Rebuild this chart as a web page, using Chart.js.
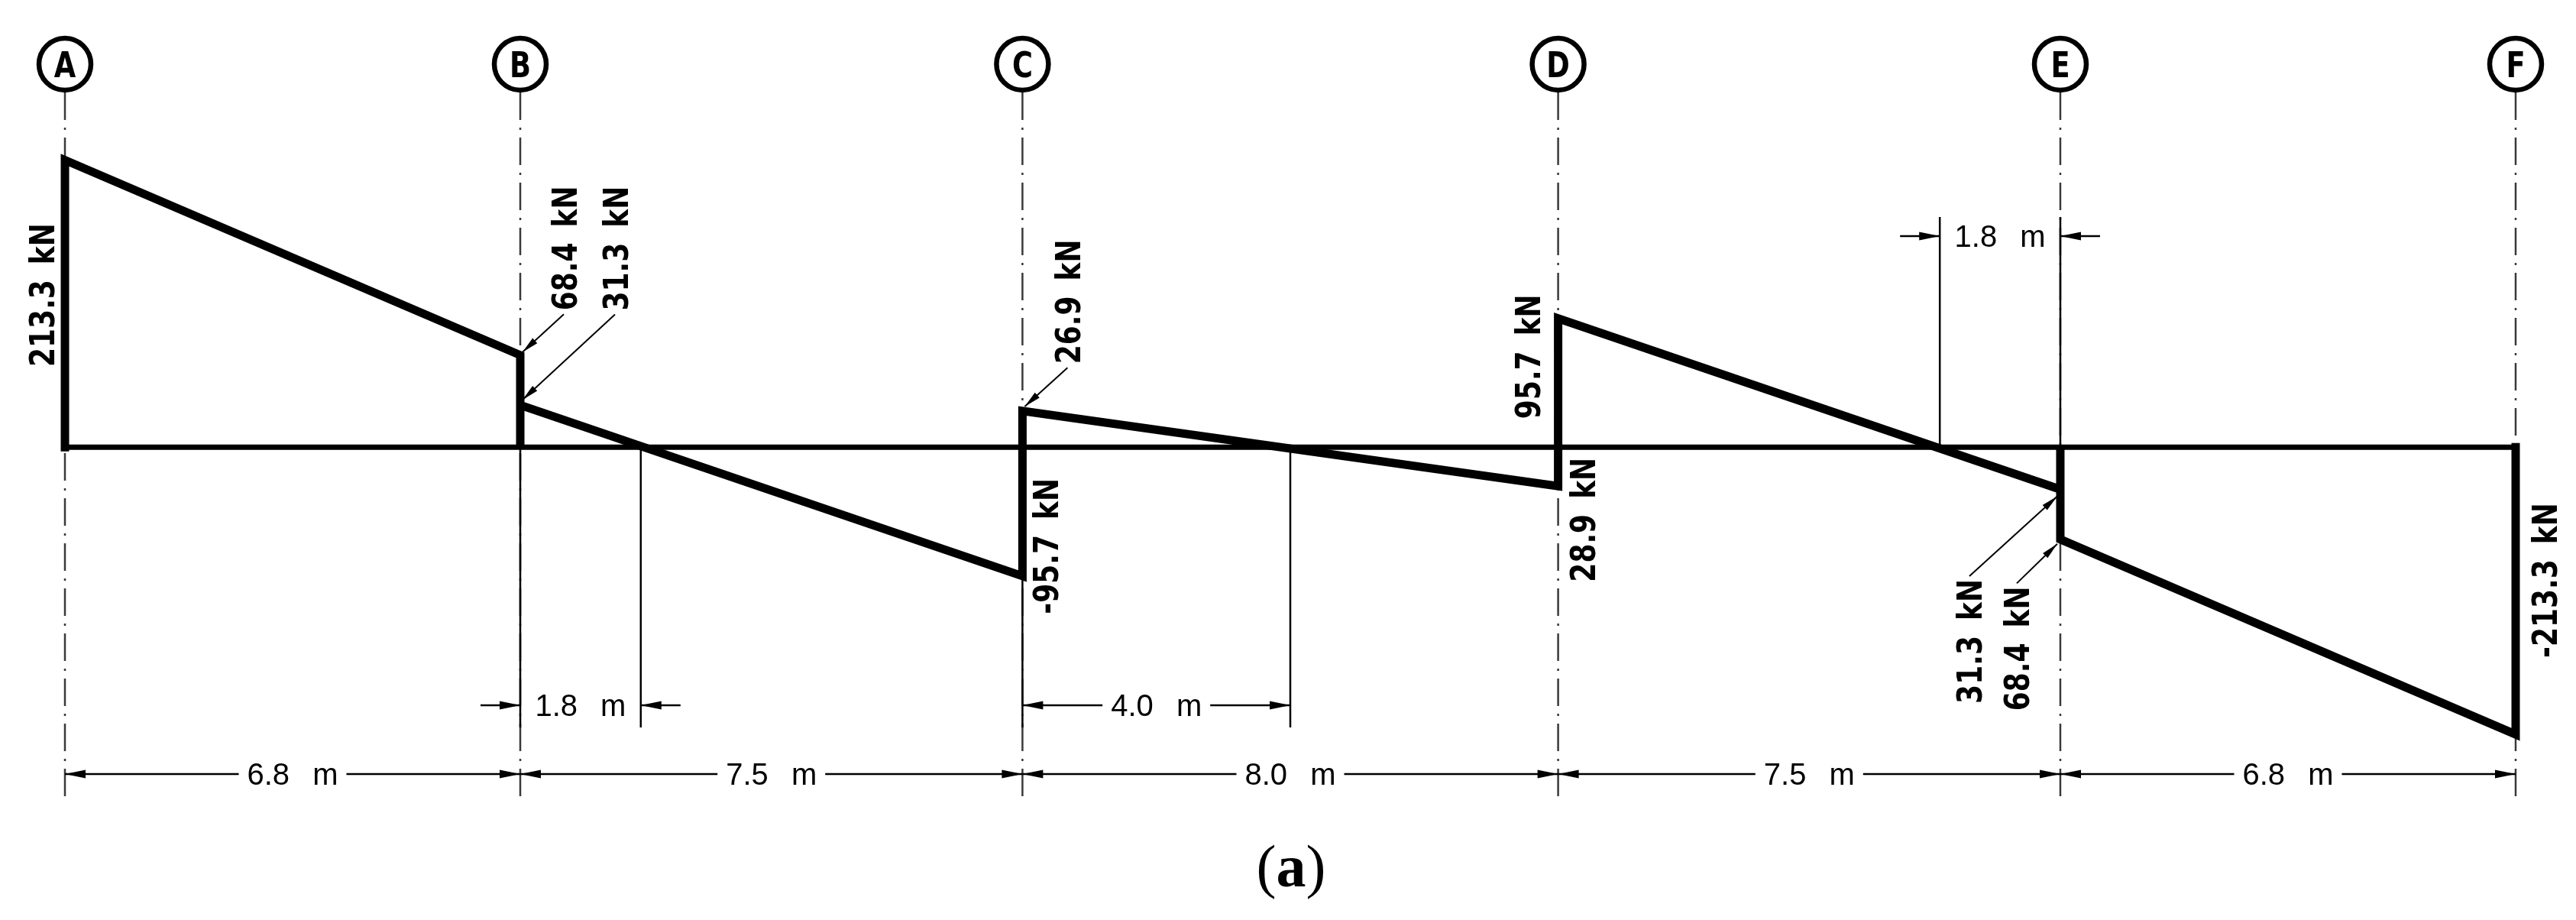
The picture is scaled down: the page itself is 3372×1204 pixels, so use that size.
<!DOCTYPE html>
<html>
<head>
<meta charset="utf-8">
<script src="https://cdn.jsdelivr.net/npm/chart.js@4/dist/chart.umd.min.js"></script>
<style>
html,body{margin:0;padding:0;background:#fff;}
canvas{display:block;}
</style>
</head>
<body>
<canvas id="c" width="3372" height="1204"></canvas>
<script>
// ---------------- DATA ----------------
const gridLetters = ['A', 'B', 'C', 'D', 'E', 'F'];
const spanLengths = [6.8, 7.5, 8.0, 7.5, 6.8];                 // m
const shearLeftOfSupport  = [null, 68.4, -95.7, -28.9, -31.3, -213.3]; // kN
const shearRightOfSupport = [213.3, 31.3, 26.9, 95.7, -68.4, null];    // kN
const shearLabels = ['213.3 kN', '68.4 kN', '31.3 kN', '26.9 kN', '-95.7 kN',
                     '95.7 kN', '28.9 kN', '31.3 kN', '68.4 kN', '-213.3 kN'];
const zeroDimSupport = [1, 2, 4];          // support the zero-shear distance is measured from
const zeroDimLength  = [1.8, 4.0, -1.8];   // m (negative = to the left)
const captionText = ['(', 'a', ')'];

// ---------------- DERIVED ----------------
const supportX = [0];
spanLengths.forEach(l => supportX.push(+(supportX[supportX.length - 1] + l).toFixed(2)));
const totalLength = supportX[supportX.length - 1];

const diagramPoints = [{x: 0, y: 0}];
supportX.forEach((x, i) => {
  const L = shearLeftOfSupport[i], R = shearRightOfSupport[i];
  if (L !== null) diagramPoints.push({x, y: L});
  if (L !== null && R !== null && Math.sign(L) === Math.sign(R)) diagramPoints.push({x, y: 0});
  if (R !== null) diagramPoints.push({x, y: R});
});
diagramPoints.push({x: totalLength, y: 0});
const zeroLinePoints = [{x: 0, y: 0}, {x: totalLength, y: 0}];

// ---------------- LAYOUT / STYLE ----------------
const W = 3372, H = 1204;
const pxLeft = 85, pxRight = 3293;               // pixel of x=0 and x=total
const pxPerM = (pxRight - pxLeft) / totalLength;
const xMin = -pxLeft / pxPerM, xMax = totalLength + (W - pxRight) / pxPerM;
const pxZero = 585.3, pxPerKN = 1.7616;
const yMax = pxZero / pxPerKN, yMin = -(H - pxZero) / pxPerKN;

const STY = {
  circleY: 84, circleR: 34, circleLW: 6.5,
  axisTop: 121, axisBottom: 1042, axisDash: [36, 10, 3, 10], axisColor: '#3a3a3a', axisLW: 2.5,
  dimBottomY: 1013, dimMidY: 923, dimTopY: 309,
  extMidBottom: 952, extTopStart: 284,
  thinLW: 2.5, leaderLW: 2,
  arrowLen: 27, arrowHW: 5.5, outsideTail: 52, textGap: 11,
  dimFont: '40px "Liberation Sans", "DejaVu Sans", sans-serif', dimCap: 28.6, dimTextW: 119,
  lblFont: 'bold 45px "DejaVu Sans", sans-serif', lblCap: 33, lblSx: 0.8, lblGap: 20,
  letterFont: 'bold 46px "DejaVu Sans", sans-serif', letterCap: 34, letterScale: 0.8
};
// label placement: anchor = [support index, 'L'|'R'], centre offset in px
const labelPlace = [
  {a: [0, 'R'], dx: -31, dy: 176.5, leader: false},
  {a: [1, 'L'], dx: 57,  dy: -140,  leader: true, tip: [3, -4]},
  {a: [1, 'R'], dx: 124, dy: -205,  leader: true, tip: [3, -7]},
  {a: [2, 'R'], dx: 59,  dy: -143,  leader: true, tip: [3, -6]},
  {a: [2, 'L'], dx: 30,  dy: -39,   leader: false},
  {a: [3, 'R'], dx: -40, dy: 50,    leader: false},
  {a: [3, 'L'], dx: 32,  dy: 44,    leader: false},
  {a: [4, 'L'], dx: -119, dy: 199,  leader: true, tip: [-4, 9]},
  {a: [4, 'R'], dx: -57, dy: 143,   leader: true, tip: [-4, 6]},
  {a: [5, 'L'], dx: 37,  dy: -201.5, leader: false}
];

// ---------------- HELPERS ----------------
function arrow(ctx, tx, ty, dx, dy, len, hw) {
  const n = Math.hypot(dx, dy); dx /= n; dy /= n;
  const bx = tx - dx * len, by = ty - dy * len;
  ctx.beginPath();
  ctx.moveTo(tx, ty);
  ctx.lineTo(bx - dy * hw, by + dx * hw);
  ctx.lineTo(bx + dy * hw, by - dx * hw);
  ctx.closePath();
  ctx.fill();
}
function line(ctx, x1, y1, x2, y2) {
  ctx.beginPath(); ctx.moveTo(x1, y1); ctx.lineTo(x2, y2); ctx.stroke();
}
// natural glyph spacing; extra width goes into the spaces
function spacedText(ctx, text, cx, baseY, targetW) {
  const parts = text.split(' ');
  const ws = parts.map(p => ctx.measureText(p).width);
  const nat = ws.reduce((a, b) => a + b, 0);
  const gap = parts.length > 1 ? (targetW - nat) / (parts.length - 1) : 0;
  const total = parts.length > 1 ? targetW : nat;
  let x = cx - total / 2;
  ctx.textAlign = 'left';
  parts.forEach((p, i) => { ctx.fillText(p, x, baseY); x += ws[i] + gap; });
}
function dimText(ctx, text, cx, cy) {
  ctx.font = STY.dimFont;
  ctx.textBaseline = 'alphabetic';
  spacedText(ctx, text, cx, cy + STY.dimCap / 2, STY.dimTextW);
}
// dimension with arrows inside pointing out, text gap in middle
function dimInside(ctx, xa, xb, y, text) {
  const xm = (xa + xb) / 2, half = STY.dimTextW / 2 + STY.textGap;
  ctx.lineWidth = STY.thinLW;
  line(ctx, xa, y, xm - half, y);
  line(ctx, xm + half, y, xb, y);
  arrow(ctx, xa, y, -1, 0, STY.arrowLen, STY.arrowHW);
  arrow(ctx, xb, y, 1, 0, STY.arrowLen, STY.arrowHW);
  dimText(ctx, text, xm, y);
}
// dimension with arrows outside pointing in
function dimOutside(ctx, xa, xb, y, text) {
  ctx.lineWidth = STY.thinLW;
  line(ctx, xa - STY.outsideTail, y, xa, y);
  line(ctx, xb, y, xb + STY.outsideTail, y);
  arrow(ctx, xa, y, 1, 0, STY.arrowLen, STY.arrowHW);
  arrow(ctx, xb, y, -1, 0, STY.arrowLen, STY.arrowHW);
  dimText(ctx, text, (xa + xb) / 2, y);
}
const fmtM = v => Math.abs(v).toFixed(1) + ' m';

// ---------------- PLUGIN ----------------
const drawingPlugin = {
  id: 'drawing',
  beforeDraw(chart) {
    const ctx = chart.ctx;
    ctx.save(); ctx.fillStyle = '#fff'; ctx.fillRect(0, 0, chart.width, chart.height); ctx.restore();
  },
  beforeDatasetsDraw(chart) {
    const ctx = chart.ctx, xs = chart.scales.x, ys = chart.scales.y;
    const y0 = ys.getPixelForValue(0);
    ctx.save();
    // grid axes (dash-dot)
    ctx.strokeStyle = STY.axisColor; ctx.lineWidth = STY.axisLW; ctx.setLineDash(STY.axisDash);
    supportX.forEach(v => { const x = xs.getPixelForValue(v); line(ctx, x, STY.axisTop, x, STY.axisBottom); });
    ctx.setLineDash([]);
    // circles + letters
    ctx.strokeStyle = '#000'; ctx.fillStyle = '#000';
    supportX.forEach((v, i) => {
      const x = xs.getPixelForValue(v);
      ctx.lineWidth = STY.circleLW;
      ctx.beginPath(); ctx.arc(x, STY.circleY, STY.circleR, 0, Math.PI * 2); ctx.stroke();
      ctx.save();
      ctx.translate(x, STY.circleY + STY.letterCap / 2);
      ctx.scale(STY.letterScale, 1);
      ctx.font = STY.letterFont; ctx.textAlign = 'center'; ctx.textBaseline = 'alphabetic';
      ctx.fillText(gridLetters[i], 0, 0);
      ctx.restore();
    });
    // extension lines (solid thin)
    ctx.strokeStyle = '#000'; ctx.lineWidth = STY.thinLW;
    zeroDimSupport.forEach((s, k) => {
      const xa = xs.getPixelForValue(supportX[s]);
      const xb = xs.getPixelForValue(supportX[s] + zeroDimLength[k]);
      if (zeroDimLength[k] > 0) {
        const startA = Math.max(y0, ys.getPixelForValue(Math.min(shearLeftOfSupport[s], shearRightOfSupport[s], 0)));
        line(ctx, xa, startA, xa, STY.extMidBottom);
        line(ctx, xb, y0, xb, STY.extMidBottom);
      } else {
        line(ctx, xa, STY.extTopStart, xa, y0);
        line(ctx, xb, STY.extTopStart, xb, y0);
      }
    });
    ctx.restore();
  },
  afterDatasetsDraw(chart) {
    const ctx = chart.ctx, xs = chart.scales.x, ys = chart.scales.y;
    ctx.save();
    ctx.fillStyle = '#000'; ctx.strokeStyle = '#000';
    // shear labels (rotated, read bottom-to-top)
    labelPlace.forEach((p, i) => {
      const [s, side] = p.a;
      const val = side === 'L' ? shearLeftOfSupport[s] : shearRightOfSupport[s];
      const ax = xs.getPixelForValue(supportX[s]), ay = ys.getPixelForValue(val);
      const cx = ax + p.dx, cy = ay + p.dy;
      ctx.font = STY.lblFont;
      const [num, unit] = shearLabels[i].split(' ');
      const wNum = ctx.measureText(num).width * STY.lblSx;
      const wUnit = ctx.measureText(unit).width * STY.lblSx;
      const len = wNum + STY.lblGap + wUnit;
      ctx.save();
      ctx.translate(cx, cy); ctx.rotate(-Math.PI / 2);
      ctx.textAlign = 'left'; ctx.textBaseline = 'alphabetic';
      ctx.save(); ctx.translate(-len / 2, STY.lblCap / 2); ctx.scale(STY.lblSx, 1); ctx.fillText(num, 0, 0); ctx.restore();
      ctx.save(); ctx.translate(-len / 2 + wNum + STY.lblGap, STY.lblCap / 2); ctx.scale(STY.lblSx, 1); ctx.fillText(unit, 0, 0); ctx.restore();
      ctx.restore();
      if (p.leader) {
        const above = cy < ay;
        const sx = cx, sy = above ? cy + len / 2 + 5 : cy - len / 2 - 4;
        const tx = ax + p.tip[0], ty = ay + p.tip[1];
        ctx.lineWidth = STY.leaderLW;
        line(ctx, sx, sy, tx, ty);
        arrow(ctx, tx, ty, tx - sx, ty - sy, 22, 4.5);
      }
    });
    // bottom span dimensions
    for (let i = 0; i < spanLengths.length; i++) {
      dimInside(ctx, xs.getPixelForValue(supportX[i]), xs.getPixelForValue(supportX[i + 1]),
                STY.dimBottomY, fmtM(spanLengths[i]));
    }
    // zero-shear distance dimensions
    zeroDimSupport.forEach((s, k) => {
      const a = supportX[s], b = supportX[s] + zeroDimLength[k];
      const xa = xs.getPixelForValue(Math.min(a, b)), xb = xs.getPixelForValue(Math.max(a, b));
      const txt = fmtM(zeroDimLength[k]);
      if (zeroDimLength[k] < 0) dimOutside(ctx, xa, xb, STY.dimTopY, txt);
      else if (Math.abs(zeroDimLength[k]) < 3) dimOutside(ctx, xa, xb, STY.dimMidY, txt);
      else dimInside(ctx, xa, xb, STY.dimMidY, txt);
    });
    // caption
    const fonts = ['78px "Liberation Serif", serif', 'bold 78px "Liberation Serif", serif', '78px "Liberation Serif", serif'];
    const widths = captionText.map((t, i) => { ctx.font = fonts[i]; return ctx.measureText(t).width; });
    let x = 1690 - widths.reduce((a, b) => a + b, 0) / 2;
    ctx.textAlign = 'left'; ctx.textBaseline = 'alphabetic';
    captionText.forEach((t, i) => { ctx.font = fonts[i]; ctx.fillText(t, x, 1160); x += widths[i]; });
    ctx.restore();
  }
};

// ---------------- CHART ----------------
new Chart(document.getElementById('c'), {
  type: 'scatter',
  data: {
    datasets: [
      {label: 'zero', data: zeroLinePoints, showLine: true, borderColor: '#000', borderWidth: 7,
       pointRadius: 0, tension: 0, fill: false, borderCapStyle: 'butt', order: 2},
      {label: 'Shear force', data: diagramPoints, showLine: true, borderColor: '#000', borderWidth: 11,
       pointRadius: 0, tension: 0, fill: false, borderJoinStyle: 'miter', borderCapStyle: 'square', order: 1}
    ]
  },
  options: {
    responsive: false, animation: false, devicePixelRatio: 1, events: [],
    layout: {padding: 0},
    plugins: {legend: {display: false}, tooltip: {enabled: false}, title: {display: false}},
    scales: {
      x: {type: 'linear', display: false, min: xMin, max: xMax},
      y: {type: 'linear', display: false, min: yMin, max: yMax}
    }
  },
  plugins: [drawingPlugin]
});
</script>
</body>
</html>
